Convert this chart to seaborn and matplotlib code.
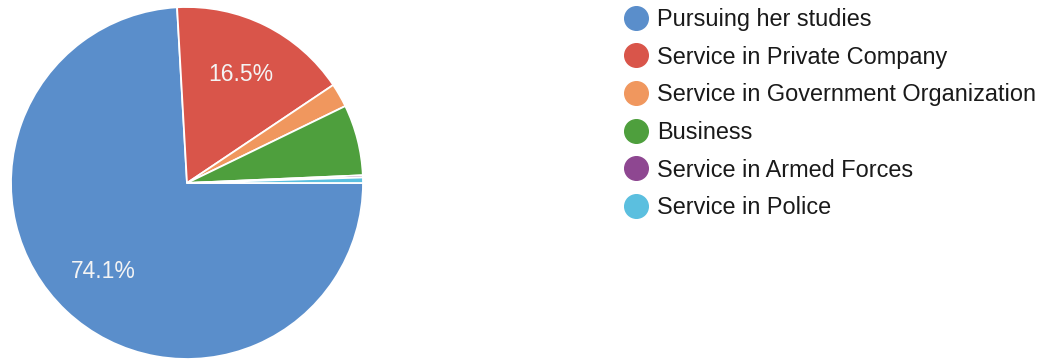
import numpy as np
import matplotlib
matplotlib.use("Agg")
from matplotlib import pyplot as plt
from matplotlib.lines import Line2D
import seaborn as sns

categories = ["Pursuing her studies", "Service in Private Company",
              "Service in Government Organization", "Business",
              "Service in Armed Forces", "Service in Police"]
shares = [74.1, 16.5, 2.2, 6.5, 0.2, 0.5]
colors = ["#5a8ecb", "#d9554a", "#f0975e", "#4e9f3d", "#8e4791", "#5bbfdf"]

sns.set_theme(style="white")
plt.rcParams['font.family'] = ['Liberation Sans', 'DejaVu Sans']

fig = plt.figure(figsize=(10.53, 3.63), dpi=100)
ax = fig.add_axes([11 / 1053, 4 / 363, 352 / 1053, 352 / 363])


def fmt(p):
    return "%.1f%%" % p if p > 10 else ""


wedges, texts, autotexts = ax.pie(
    shares, colors=colors, startangle=0, counterclock=False,
    autopct=fmt, pctdistance=0.69,
    wedgeprops=dict(edgecolor="white", linewidth=1.3),
    textprops=dict(color="#f4f4f4", fontsize=16.5))
ax.set_xlim(-1, 1)
ax.set_ylim(-1, 1)
ax.set_aspect("equal")
for w in wedges:
    w.set_clip_on(False)

handles = [Line2D([0], [0], marker="o", linestyle="", markersize=17,
                  markerfacecolor=c, markeredgecolor=c) for c in colors]
fig.legend(handles, categories, loc="upper left",
           bbox_to_anchor=(620 / 1053, 1 - 8 / 363), frameon=False,
           fontsize=16.9, labelcolor="#1a1a1a", labelspacing=0.625,
           handletextpad=0.24, handlelength=1.35, borderaxespad=0, borderpad=0)

fig.savefig("out.png", dpi=100)
